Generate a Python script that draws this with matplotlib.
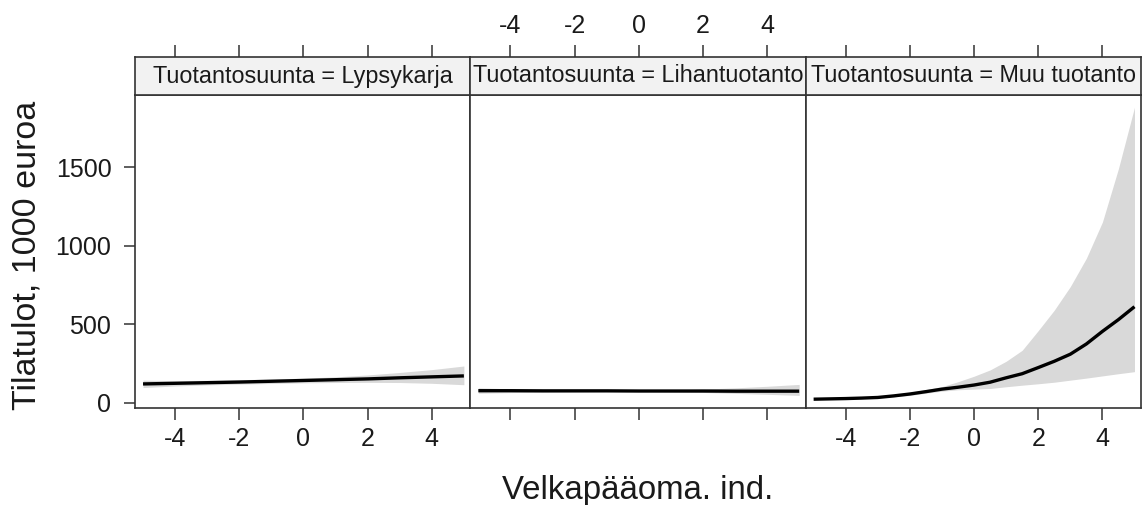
import numpy as np
import matplotlib
matplotlib.use("Agg")
import matplotlib.pyplot as plt

plt.rcParams['font.family'] = ['Liberation Sans', 'DejaVu Sans']

panels = ["Tuotantosuunta = Lypsykarja", "Tuotantosuunta = Lihantuotanto", "Tuotantosuunta = Muu tuotanto"]
x_ticks = [-4, -2, 0, 2, 4]
y_ticks = [0, 500, 1000, 1500]

# panel 1 & 2 sampled at integer x
x_int = [-5, -4, -3, -2, -1, 0, 1, 2, 3, 4, 5]
lyps_fit = [121, 125, 129, 133, 138, 143, 148, 153, 160, 166, 172]
lyps_upper = [145, 142, 144, 148, 152, 158, 166, 178, 194, 212, 235]
lyps_lower = [98, 108, 115, 120, 124, 128, 130, 131, 130, 125, 116]

liha_fit = [78, 78, 77, 77, 77, 76, 76, 76, 75, 75, 75]
liha_upper = [96, 90, 86, 83, 80, 79, 82, 88, 96, 106, 118]
liha_lower = [62, 66, 69, 71, 73, 74, 71, 67, 61, 55, 48]

# panel 3 sampled at half steps
x_half = [-5, -4.5, -4, -3.5, -3, -2.5, -2, -1.5, -1, -0.5, 0,
          0.5, 1, 1.5, 2, 2.5, 3, 3.5, 4, 4.5, 5]
muu_fit = [24, 26, 28, 31, 35, 45, 57, 72, 88, 100, 114,
           132, 160, 186, 225, 265, 310, 375, 455, 530, 612]
muu_upper = [27, 29, 31, 35, 39, 52, 68, 85, 104, 135, 170,
             210, 265, 335, 460, 590, 740, 920, 1150, 1490, 1880]
muu_lower = [22, 24, 26, 29, 32, 40, 48, 62, 75, 84, 88,
             92, 103, 113, 122, 132, 145, 158, 172, 186, 199]

data = [(x_int, lyps_fit, lyps_upper, lyps_lower),
        (x_int, liha_fit, liha_upper, liha_lower),
        (x_half, muu_fit, muu_upper, muu_lower)]

W, H = 1142, 505
fig = plt.figure(figsize=(W / 100, H / 100), dpi=100)

left0 = 135 / W
pw = 335.3 / W
bottom = (H - 408) / H
ph = (408 - 95) / H
sh = 38 / H

spine_c = '#333333'
txt_c = '#1a1a1a'
xlim = (-5.25, 5.2)
ylim = (-32, 1958)

for i, (title, (xs, fit, up, lo)) in enumerate(zip(panels, data)):
    ax = fig.add_axes([left0 + i * pw, bottom, pw, ph])
    ax.fill_between(xs, lo, up, color='#d9d9d9', lw=0, zorder=1)
    ax.plot(xs, fit, color='black', lw=2.4, zorder=2, solid_capstyle='butt')
    ax.set_xlim(*xlim)
    ax.set_ylim(*ylim)
    ax.set_xticks(x_ticks)
    ax.set_xticklabels([str(v) for v in x_ticks])
    ax.tick_params(axis='x', direction='out', length=8.5, width=1.1, color=spine_c,
                   labelsize=18, labelcolor=txt_c, pad=5,
                   bottom=True, labelbottom=(i != 1), top=False, labeltop=False)
    if i == 0:
        ax.set_yticks(y_ticks)
        ax.set_yticklabels([str(v) for v in y_ticks])
        ax.tick_params(axis='y', direction='out', length=8, width=1.1, color=spine_c,
                       labelsize=18, labelcolor=txt_c, pad=9)
    else:
        ax.set_yticks([])
    for s in ax.spines.values():
        s.set_color(spine_c)
        s.set_linewidth(1.2)

    sax = fig.add_axes([left0 + i * pw, bottom + ph, pw, sh])
    sax.set_facecolor('#f2f2f2')
    sax.set_xlim(*xlim)
    sax.set_ylim(0, 1)
    sax.set_yticks([])
    sax.set_xticks(x_ticks)
    sax.set_xticklabels([str(v) for v in x_ticks])
    sax.tick_params(axis='x', direction='out', length=8.5, width=1.1, color=spine_c,
                    labelsize=18, labelcolor=txt_c, pad=5,
                    bottom=False, labelbottom=False, top=True, labeltop=(i == 1))
    for s in sax.spines.values():
        s.set_color(spine_c)
        s.set_linewidth(1.2)
    sax.text(0.5, 0.5, title, transform=sax.transAxes, ha='center', va='center',
             fontsize=16.8, color=txt_c)

fig.text(638 / W, 1 - 490 / H, "Velkapääoma. ind.", ha='center', va='center',
         fontsize=23.8, color=txt_c)
fig.text(27 / W, 1 - 255 / H, "Tilatulot, 1000 euroa", ha='center', va='center',
         rotation=90, fontsize=24.5, color=txt_c)

fig.savefig("out.png", dpi=100)
